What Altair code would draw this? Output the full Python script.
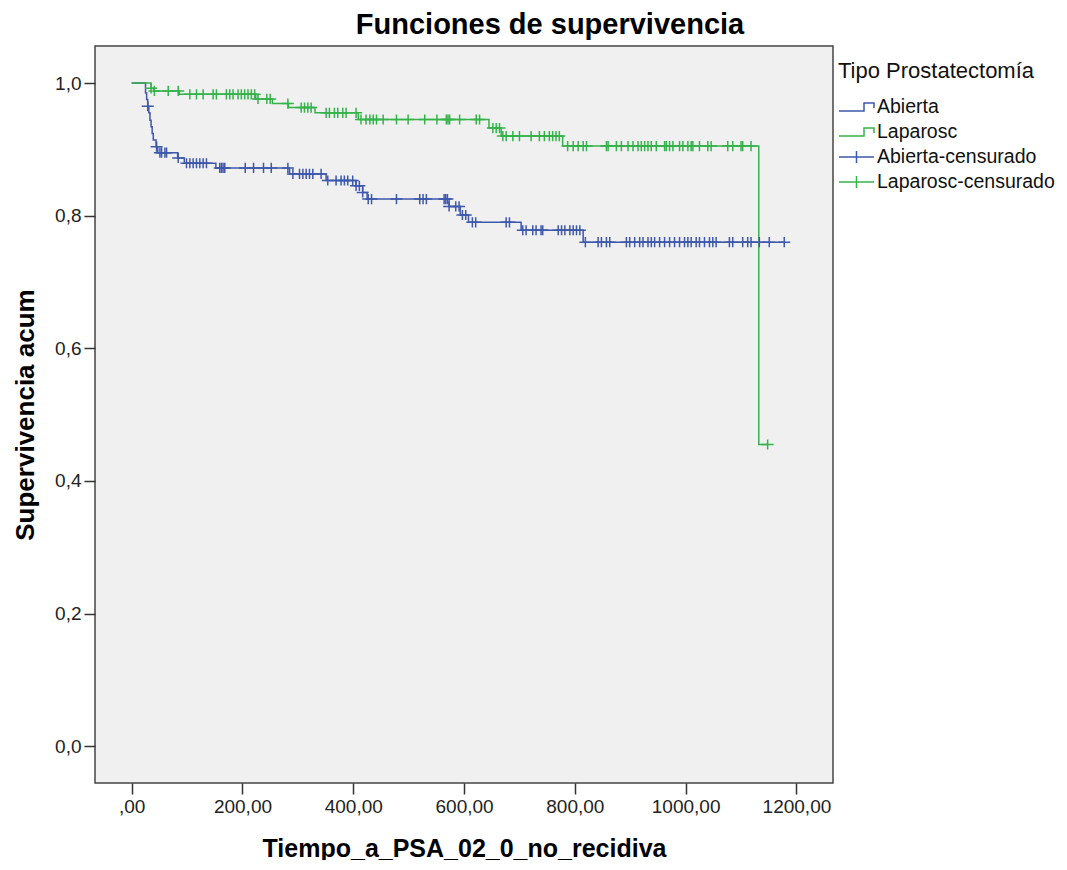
import altair as alt
import pandas as pd

FONT = "Liberation Sans"
BLUE = "#3E58AC"
GREEN = "#34B34A"

# Kaplan-Meier step functions (time, survival after that time)
ab_t = [0, 25, 27, 29, 31, 33, 35, 37, 39, 44, 47, 83, 95, 152, 285, 351, 405, 417, 425, 573, 593, 608, 703, 815]
ab_s = [1.0, 0.985, 0.975, 0.965, 0.955, 0.944, 0.934, 0.924, 0.914, 0.904, 0.895, 0.887, 0.879, 0.872,
        0.863, 0.853, 0.845, 0.835, 0.825, 0.814, 0.801, 0.790, 0.778, 0.760]
ab_end = 1178

lap_t = [0, 35, 40, 86, 224, 254, 283, 331, 409, 645, 667, 778, 1132]
lap_s = [1.0, 0.992, 0.988, 0.983, 0.976, 0.969, 0.963, 0.955, 0.945, 0.932, 0.920, 0.905, 0.455]
lap_end = 1148

# censored times
ab_cens = [29, 45, 51, 54, 60, 63, 84, 99, 105, 111, 117, 123, 129, 135, 159, 162, 165, 168, 205, 220, 238,
           252, 282, 291, 303, 309, 315, 321, 327, 342, 354, 369, 378, 384, 390, 399, 405, 411, 417, 427, 433,
           478, 520, 526, 532, 564, 567, 570, 573, 585, 591, 597, 603, 615, 621, 676, 682, 706, 712, 724, 730,
           739, 742, 770, 776, 782, 791, 797, 803, 809, 819, 842, 848, 857, 863, 893, 899, 908, 917, 923, 932,
           938, 944, 953, 962, 971, 980, 989, 998, 1004, 1010, 1019, 1025, 1034, 1043, 1049, 1055, 1079, 1085,
           1103, 1112, 1118, 1133, 1151, 1178]
lap_cens = [35, 41, 66, 84, 105, 117, 129, 147, 153, 171, 177, 183, 192, 198, 204, 210, 216, 222, 228, 244,
            250, 282, 306, 312, 318, 324, 351, 357, 366, 372, 381, 387, 405, 414, 423, 430, 436, 442, 454, 478,
            499, 529, 551, 568, 571, 574, 592, 622, 628, 652, 658, 664, 670, 676, 688, 700, 721, 736, 745, 754,
            760, 766, 772, 787, 797, 806, 815, 821, 857, 860, 875, 884, 896, 905, 914, 920, 926, 932, 938, 947,
            962, 965, 971, 977, 989, 995, 1004, 1010, 1013, 1025, 1040, 1046, 1076, 1085, 1100, 1103, 1118, 1148]

groups = ["Abierta", "Laparosc", "Abierta-censurado", "Laparosc-censurado"]
x_ticks = [0, 200, 400, 600, 800, 1000, 1200]
y_ticks = [0.0, 0.2, 0.4, 0.6, 0.8, 1.0]


def surv_at(ts, ss, t):
    v = ss[0]
    for a, b in zip(ts, ss):
        if a <= t:
            v = b
        else:
            break
    return v


line_rows = []
for name, ts, ss, end in [("Abierta", ab_t, ab_s, ab_end), ("Laparosc", lap_t, lap_s, lap_end)]:
    for t, s in zip(ts, ss):
        line_rows.append({"t": t, "s": s, "grupo": name})
    line_rows.append({"t": end, "s": ss[-1], "grupo": name})
line_df = pd.DataFrame(line_rows)

cens_rows = []
for name, ts, ss, cs in [("Abierta-censurado", ab_t, ab_s, ab_cens),
                         ("Laparosc-censurado", lap_t, lap_s, lap_cens)]:
    for t in cs:
        cens_rows.append({"t": t, "s": surv_at(ts, ss, t), "grupo": name})
cens_df = pd.DataFrame(cens_rows)

x_enc = alt.X("t:Q", scale=alt.Scale(domain=[-66.2, 1266], nice=False, zero=False),
              axis=alt.Axis(values=x_ticks, title="Tiempo_a_PSA_02_0_no_recidiva",
                            labelExpr="datum.value == 0 ? ',00' : replace(format(datum.value, '.2f'), '.', ',')",
                            titlePadding=20, titleFontSize=25))
y_enc = alt.Y("s:Q", scale=alt.Scale(domain=[-0.0553, 1.0558], nice=False, zero=False),
              axis=alt.Axis(values=y_ticks, title="Supervivencia acum",
                            labelExpr="replace(format(datum.value, '.1f'), '.', ',')",
                            titlePadding=16))

cscale = alt.Scale(domain=groups, range=[BLUE, GREEN, BLUE, GREEN])
# legend glyphs: symbol box is 20px (size 400), paths reach 3.5 units wide (35px)
step_path = "M-1,0.4H1.5V-0.4H2.5V0.1"
wide_cross = "M-1,0H2.5M0.75,-0.6V0.6"
sscale = alt.Scale(domain=groups, range=[step_path, step_path, wide_cross, wide_cross])

leg = dict(title="Tipo Prostatectomía", orient="none", legendX=743, legendY=15,
           symbolSize=400, symbolStrokeWidth=1.5, rowPadding=4, labelOffset=17,
           symbolFillColor="transparent",
           labelFont=FONT, labelFontSize=19.5, labelColor="#111", labelLimit=400,
           titleFont=FONT, titleFontSize=22, titleFontWeight="normal", titleColor="#111",
           titleLimit=400, titlePadding=13, padding=0)

lines = alt.Chart(line_df).mark_line(interpolate="step-after", strokeWidth=1.5).encode(
    x=x_enc, y=y_enc, color=alt.Color("grupo:N", scale=cscale, legend=alt.Legend(**leg)))

crosses = alt.Chart(cens_df).mark_point(
    shape="M-1,0H1M0,-0.85V0.85", size=144, filled=False, strokeWidth=1.5, opacity=1
).encode(x=x_enc, y=y_enc, color=alt.Color("grupo:N", scale=cscale, legend=alt.Legend(**leg)))

legend_layer = alt.Chart(cens_df).mark_point(
    filled=False, strokeWidth=1.5, opacity=1
).encode(
    x=x_enc, y=y_enc,
    color=alt.Color("grupo:N", scale=cscale, legend=alt.Legend(**leg)),
    shape=alt.Shape("grupo:N", scale=sscale, legend=alt.Legend(**leg)),
).transform_filter("datum.t < -1000")

chart = alt.layer(lines, crosses, legend_layer).properties(
    width=738, height=737,
    autosize="none",
    background="white",
    padding={"left": 87, "top": 38, "right": 226, "bottom": 77},
    title=alt.TitleParams("Funciones de supervivencia", font=FONT, fontSize=29, fontWeight="bold",
                          color="#000", anchor="middle", dx=86, offset=6),
).configure_view(
    stroke="#444", strokeWidth=1.5, fill="#F0F0F0"
).configure_axis(
    grid=False, domain=False, tickSize=11, tickWidth=1.5, tickColor="#333",
    labelFont=FONT, labelFontSize=19, labelColor="#222", labelPadding=3,
    titleFont=FONT, titleFontSize=26, titleFontWeight="bold", titleColor="#000",
)

chart.save("out.html", embed_options={"renderer": "svg", "actions": False})
